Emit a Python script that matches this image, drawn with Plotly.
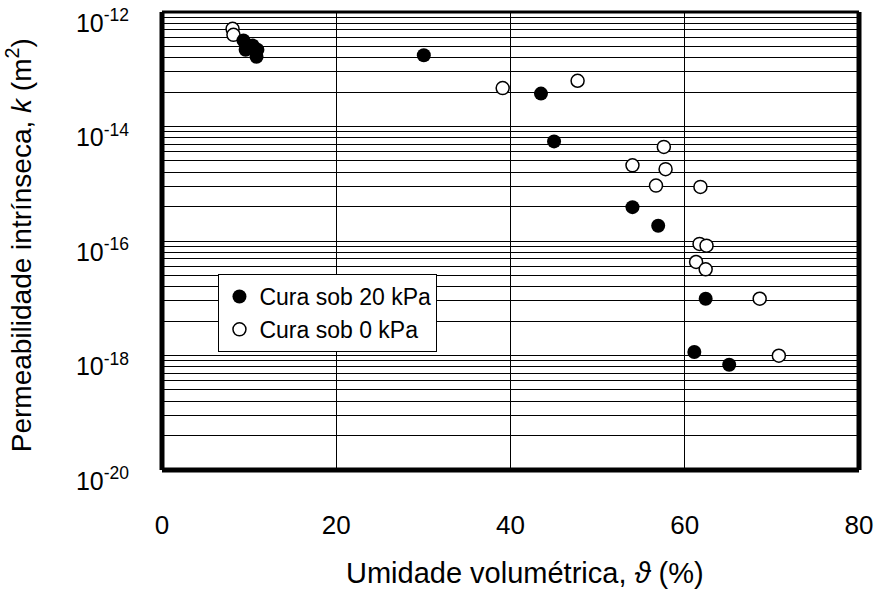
import plotly.graph_objects as go

# --- data ---
cura20_x = [9.35, 9.6, 10.4, 10.95, 10.85, 30.05, 43.5, 45.0, 54.0, 56.95, 62.4, 61.1, 65.1]
cura20_k = [3.2e-13, 2.2e-13, 2.6e-13, 2.2e-13, 1.66e-13, 1.76e-13, 3.76e-14, 5.5e-15,
            3.9e-16, 1.85e-16, 9.8e-18, 1.15e-18, 6.9e-19]

cura0_x = [8.1, 8.2, 39.1, 47.7, 57.6, 54.0, 57.8, 56.7, 61.8, 61.7, 62.5, 61.3, 62.4, 68.6, 70.8]
cura0_k = [5.1e-13, 4.0e-13, 4.7e-14, 6.3e-14, 4.4e-15, 2.1e-15, 1.8e-15, 9.3e-16, 8.8e-16,
           8.9e-17, 8.3e-17, 4.3e-17, 3.2e-17, 9.8e-18, 9.9e-19]

x_ticks = [0, 20, 40, 60, 80]
y_exps = [-20, -18, -16, -14, -12]
y_ticks = [10.0 ** e for e in y_exps]
y_text = ["10<sup>%d</sup>" % e for e in y_exps]
# gridlines as drawn by a base-100 log axis
y_minor = [k * k * 10.0 ** e for e in y_exps[:-1] for k in range(2, 10)]

FONT = "Liberation Sans, Arial, sans-serif"

fig = go.Figure()
fig.add_trace(go.Scatter(
    x=cura0_x, y=cura0_k, mode="markers", name="Cura sob 0 kPa", legendrank=2,
    marker=dict(symbol="circle", size=13, color="white", line=dict(color="black", width=1.5)),
))
fig.add_trace(go.Scatter(
    x=cura20_x, y=cura20_k, mode="markers", name="Cura sob 20 kPa", legendrank=1,
    marker=dict(symbol="circle", size=14, color="black", line=dict(color="black", width=0)),
))

fig.update_xaxes(
    range=[0, 80], tickvals=x_ticks, showgrid=True, gridcolor="black", gridwidth=1,
    zeroline=False, showline=False, ticks="", ticklabelstandoff=37, automargin=False,
    tickfont=dict(family=FONT, size=26, color="black"),
)
fig.update_yaxes(
    type="log", range=[-20.001, -11.999], tickvals=y_ticks, ticktext=y_text,
    showgrid=True, gridcolor="black", gridwidth=1, zeroline=False, showline=False, ticks="",
    ticklabelstandoff=32, ticklabelshift=11, ticklabeloverflow="allow", automargin=False,
    minor=dict(tickvals=y_minor, showgrid=True, gridcolor="black", gridwidth=1, ticks=""),
    tickfont=dict(family=FONT, size=25, color="black"),
)

frame = []
for (x0, y0, x1, y1, w) in [(0, 0, 0, 1, 5), (1, 0, 1, 1, 5), (0, 0, 1, 0, 5), (0, 1, 1, 1, 3)]:
    frame.append(dict(type="line", xref="paper", yref="paper", x0=x0, y0=y0, x1=x1, y1=y1,
                      line=dict(color="black", width=w), layer="above"))

fig.update_layout(
    width=877, height=590,
    margin=dict(l=162, r=18, t=12, b=120, autoexpand=False),
    paper_bgcolor="white", plot_bgcolor="white",
    font=dict(family=FONT, color="black"),
    shapes=frame,
    showlegend=True,
    legend=dict(x=0.081, y=0.428, xanchor="left", yanchor="top",
                bgcolor="white", bordercolor="black", borderwidth=1,
                font=dict(family=FONT, size=23, color="black"), itemwidth=30),
    annotations=[
        dict(text="Umidade volumétrica, <i>ϑ</i> (%)", xref="paper", yref="paper",
             x=0.521, y=-0.225, xanchor="center", yanchor="middle", showarrow=False,
             font=dict(family=FONT, size=29, color="black")),
        dict(text="Permeabilidade intrínseca, <i>k</i> (m<sup>2</sup>)", xref="paper", yref="paper",
             x=-0.205, y=0.491, xanchor="center", yanchor="middle", showarrow=False, textangle=-90,
             font=dict(family=FONT, size=28, color="black")),
    ],
)

fig.write_html("out.html", config={"displayModeBar": False},
               post_script="document.body.style.margin='0';document.body.style.padding='0';"
                           "document.body.style.overflow='hidden';")
